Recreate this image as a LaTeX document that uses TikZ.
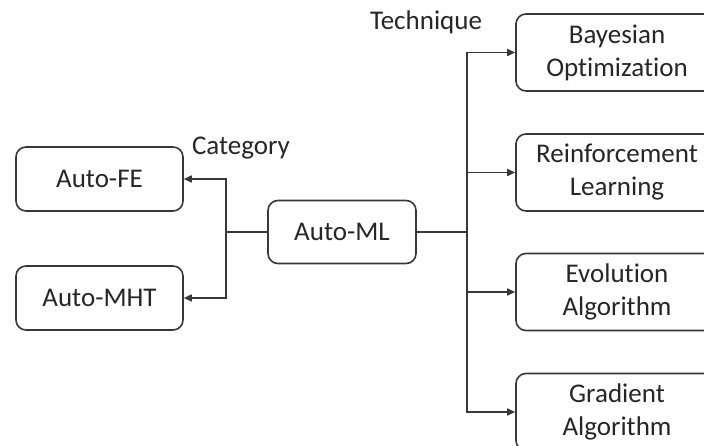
\documentclass[tikz,border=0pt]{standalone}
\usepackage{fontspec}
\setmainfont{Carlito}[Ligatures=NoCommon]
\usetikzlibrary{arrows.meta}
\definecolor{ink}{HTML}{262626}
\definecolor{edge}{HTML}{383838}
\begin{document}
\begin{tikzpicture}[x=1pt,y=-1pt,
  box/.style={draw=edge, line width=1.6pt, rounded corners=10pt, align=center,
    text=ink, font=\fontsize{27}{33}\selectfont, inner sep=0pt},
  lbl/.style={text=ink, font=\fontsize{27}{33}\selectfont, inner sep=0pt},
  link/.style={draw=edge, line width=1.6pt},
  tip/.style={link, -{Triangle[length=8pt,width=7pt]}}]
\useasboundingbox (0,0) rectangle (704,446);

% central node
\node[box, minimum width=148pt, minimum height=63pt] (ml) at (342,232) {Auto-ML};

% categories
\node[box, minimum width=167pt, minimum height=64pt] (fe)  at (99.5,179) {Auto-FE};
\node[box, minimum width=167pt, minimum height=64pt] (mht) at (99.5,298) {Auto-MHT};

% techniques
\node[box, minimum width=202pt, minimum height=77pt] (bo) at (617,52.5) {Bayesian\\Optimization};
\node[box, minimum width=202pt, minimum height=77pt] (rl) at (617,172.5) {Reinforcement\\Learning};
\node[box, minimum width=202pt, minimum height=77pt] (ea) at (617,292) {Evolution\\Algorithm};
\node[box, minimum width=202pt, minimum height=77pt] (ga) at (617,412) {Gradient\\Algorithm};

% group labels
\node[lbl] (cat) at (241,148) {Category};
\node[lbl] (tec) at (426,22) {Technique};

% branch points
\coordinate (lj) at (226,232);
\coordinate (rj) at (467,232);

% left tree
\draw[link] (ml.west) -- (lj);
\draw[tip] (lj) |- (fe.east);
\draw[tip] (lj) |- (mht.east);

% right tree
\draw[link] (ml.east) -- (rj);
\draw[tip] (rj) |- (bo.west);
\draw[tip] (rj) |- (rl.west);
\draw[tip] (rj) |- (ea.west);
\draw[tip] (rj) |- (ga.west);
\end{tikzpicture}
\end{document}
